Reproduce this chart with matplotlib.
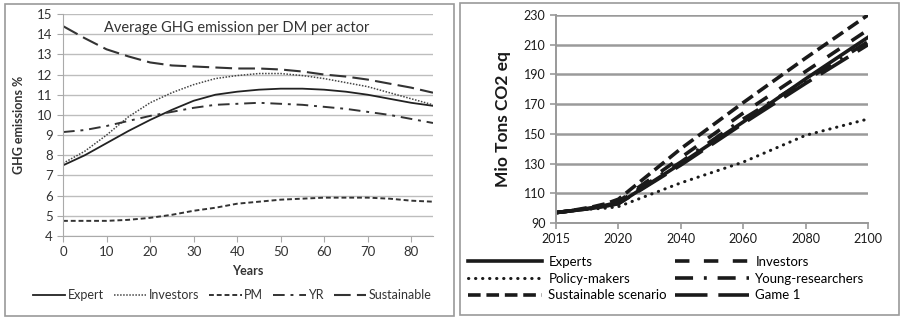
import numpy as np
import matplotlib.pyplot as plt
from matplotlib.patches import Rectangle

# ---- left panel data: average GHG emission per DM per actor ----
years = [0, 5, 10, 15, 20, 25, 30, 35, 40, 45, 50, 55, 60, 65, 70, 75, 80, 85]
expert = [7.5, 8.0, 8.6, 9.2, 9.75, 10.25, 10.7, 11.0, 11.15, 11.25, 11.3, 11.3, 11.25, 11.15, 11.0, 10.8, 10.6, 10.45]
investors = [7.6, 8.2, 9.0, 9.9, 10.6, 11.1, 11.5, 11.8, 11.95, 12.05, 12.05, 11.95, 11.8, 11.6, 11.4, 11.1, 10.8, 10.5]
pm = [4.75, 4.75, 4.75, 4.8, 4.9, 5.05, 5.25, 5.4, 5.6, 5.7, 5.8, 5.85, 5.9, 5.9, 5.9, 5.85, 5.75, 5.7]
yr = [9.15, 9.25, 9.45, 9.7, 9.95, 10.15, 10.35, 10.5, 10.55, 10.6, 10.55, 10.5, 10.4, 10.3, 10.15, 10.0, 9.8, 9.6]
sustainable = [14.4, 13.8, 13.25, 12.9, 12.6, 12.45, 12.4, 12.35, 12.3, 12.3, 12.25, 12.15, 12.0, 11.9, 11.75, 11.55, 11.35, 11.1]

# ---- right panel data: Mio Tons CO2 eq ----
tick_years = [2015, 2020, 2040, 2060, 2080, 2100]
r_years = [2015, 2016, 2017, 2018, 2019, 2020, 2040, 2060, 2080, 2100]
r_experts = [97, 98, 99, 100, 101.5, 103, 130, 158, 187, 215]
r_policy = [97, 98, 99, 99.5, 100, 101, 117, 131, 149, 160]
r_sustain = [97, 98, 99.5, 101, 103, 106, 140, 171, 201, 230]
r_investors = [97, 98, 99, 100.5, 102, 104.5, 134, 164, 192, 220]
r_young = [97, 98, 99, 100.5, 102, 104, 131, 160, 186, 212]
r_game1 = [97, 98, 99, 100, 101.5, 103, 129, 157, 184, 210]

fig = plt.figure(figsize=(9.01, 3.18), dpi=100)

# panel frames
fig.patches.append(Rectangle((5 / 901, 1 - 316 / 318), 449 / 901, 312 / 318, transform=fig.transFigure,
                             fill=False, edgecolor='#9a9a9a', lw=1.2))
fig.patches.append(Rectangle((460 / 901, 1 - 315 / 318), 439 / 901, 312 / 318, transform=fig.transFigure,
                             fill=False, edgecolor='#9a9a9a', lw=1.2))

# ---------------- left chart ----------------
lf = ['Lato', 'DejaVu Sans']
ax1 = fig.add_axes([63 / 901, 1 - 236 / 318, 370 / 901, 222 / 318])
ax1.plot(years, expert, color='#222222', lw=1.3, ls='-', label='Expert')
ax1.plot(years, investors, color='#444444', lw=1.1, ls=(0, (1, 1)), label='Investors')
ax1.plot(years, pm, color='#333333', lw=1.4, ls=(0, (2.5, 1.5)), label='PM')
ax1.plot(years, yr, color='#333333', lw=1.4, ls=(0, (6, 3, 1.5, 3)), label='YR')
ax1.plot(years, sustainable, color='#333333', lw=1.5, ls=(0, (8, 3)), label='Sustainable')
ax1.set_xlim(0, 85)
ax1.set_ylim(4, 15)
ax1.set_xticks(range(0, 90, 10))
ax1.set_yticks(range(4, 16))
ax1.grid(axis='y', color='#bdbdbd', lw=1)
ax1.set_axisbelow(True)
for s in ['top', 'right']:
    ax1.spines[s].set_visible(False)
for s in ['left', 'bottom']:
    ax1.spines[s].set_color('#aaaaaa')
ax1.tick_params(colors='#aaaaaa', labelcolor='#333333', labelsize=9.5, length=4)
for lab in ax1.get_xticklabels() + ax1.get_yticklabels():
    lab.set_family(lf)
ax1.set_xlabel('Years', fontsize=9, fontweight='bold', family=lf, color='#333333', labelpad=5)
ax1.set_ylabel('GHG emissions %', fontsize=9, fontweight='bold', family=lf, color='#333333', labelpad=9)
ax1.text(0.47, 0.935, 'Average GHG emission per DM per actor', transform=ax1.transAxes,
         ha='center', va='center', fontsize=10.5, family=lf, color='#333333')
fig.legend(*ax1.get_legend_handles_labels(), loc='center', bbox_to_anchor=(232 / 901, 1 - 295 / 318),
           ncol=5, frameon=False, prop={'family': lf, 'size': 9}, handlelength=2.6,
           handletextpad=0.2, columnspacing=0.8, labelcolor='#333333')

# ---------------- right chart ----------------
rf = ['Lato', 'DejaVu Sans']
ax2 = fig.add_axes([556 / 901, 1 - 223 / 318, 312 / 901, 208 / 318])
xr = np.interp(r_years, tick_years, np.arange(len(tick_years)))
lw = 2.6
ax2.plot(xr, r_experts, color='#1a1a1a', lw=lw, ls='-', label='Experts')
ax2.plot(xr, r_policy, color='#1a1a1a', lw=2.2, ls=(0, (0.1, 2.2)), dash_capstyle='round', label='Policy-makers')
ax2.plot(xr, r_sustain, color='#1a1a1a', lw=lw, ls=(0, (3.5, 1.6)), label='Sustainable scenario')
ax2.plot(xr, r_investors, color='#1a1a1a', lw=lw, ls=(0, (4, 4)), label='Investors')
ax2.plot(xr, r_young, color='#1a1a1a', lw=lw, ls=(0, (5, 3, 0.8, 3)), label='Young-researchers')
ax2.plot(xr, r_game1, color='#1a1a1a', lw=lw, ls=(0, (9, 3)), label='Game 1')
ax2.set_xlim(0, 5)
ax2.set_ylim(90, 230)
ax2.set_xticks(range(len(tick_years)))
ax2.set_xticklabels([str(y) for y in tick_years])
ax2.set_yticks(range(90, 231, 20))
ax2.grid(axis='y', color='#9a9a9a', lw=1.8)
ax2.set_axisbelow(True)
for s in ['top', 'right']:
    ax2.spines[s].set_visible(False)
for s in ['left', 'bottom']:
    ax2.spines[s].set_color('#999999')
    ax2.spines[s].set_linewidth(1.4)
ax2.tick_params(colors='#999999', labelcolor='#1a1a1a', labelsize=9, length=4, width=1.2)
for lab in ax2.get_xticklabels() + ax2.get_yticklabels():
    lab.set_family(rf)
ax2.set_ylabel('Mio Tons CO2 eq', fontsize=12.5, fontweight='bold', family=rf, color='#1a1a1a', labelpad=9)
fig.legend(*ax2.get_legend_handles_labels(), loc='upper left', bbox_to_anchor=(468 / 901, 1 - 256 / 318),
           ncol=2, frameon=False, prop={'family': rf, 'size': 9.5}, handlelength=5.6,
           handletextpad=0.5, columnspacing=0.6, labelspacing=0.35, borderaxespad=0, borderpad=0)

fig.savefig('out.png', dpi=100)
